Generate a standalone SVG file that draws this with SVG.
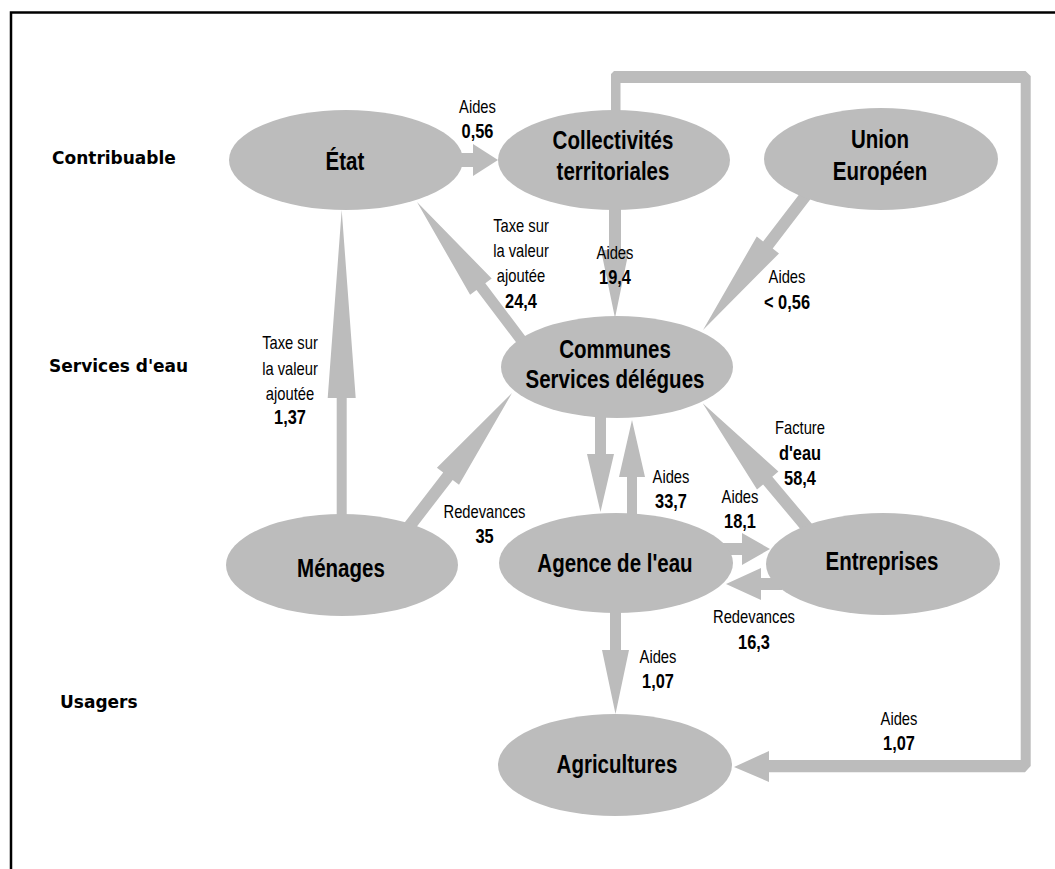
<svg xmlns="http://www.w3.org/2000/svg" width="1055" height="869" viewBox="0 0 1055 869">
<style>
.bg{fill:#ffffff}
.frame{fill:none;stroke:#000;stroke-width:2.5}
.node ellipse{fill:#bcbcbc}
.conn polygon{fill:#bcbcbc}
.nl{font-family:"Liberation Sans",Arial,sans-serif;font-weight:bold;font-size:25px;text-anchor:middle;fill:#000}
.lab{font-family:"Liberation Sans",Arial,sans-serif;font-size:18px;text-anchor:middle;fill:#000}
.num{font-weight:bold;font-size:20px}
.cat{font-family:"DejaVu Sans",sans-serif;font-weight:bold;font-size:17px;fill:#000}
</style>
<rect class="bg" x="0" y="0" width="1055" height="869"/>
<path class="frame" d="M11,869 V12.5 H1055"/>

<g id="categories">
<text class="cat" x="52" y="164">Contribuable</text>
<text class="cat" x="49" y="372">Services d'eau</text>
<text class="cat" x="60" y="708">Usagers</text>
</g>

<g id="connectors" class="conn">
<polygon id="c-etat-coll" points="460,153 473,153 473,144 498,160 473,176 473,167 460,167"/>
<polygon id="c-coll-comm" points="609,205 621,205 621,250 629,250 615,318 601,250 609,250"/>
<polygon id="c-union-comm" points="814.8,193.6 772.7,248.6 779.0,253.5 703,330 756.8,236.5 763.1,241.4 805.2,186.4"/>
<polygon id="c-comm-etat" points="529.4,341.7 485.3,283.3 491.7,278.5 417,202 470.1,294.7 476.5,289.9 520.6,348.3"/>
<polygon id="c-men-etat" points="336.7,520 336.7,398 327.7,398 341.7,210 355.7,398 346.7,398 346.7,520"/>
<polygon id="c-men-comm" points="409.8,535.7 452.7,479.9 459.0,484.7 512,393 436.9,467.7 443.2,472.5 400.2,528.3"/>
<polygon id="c-comm-ag" points="595,412 606,412 606,454 614,454 600.5,512 587,454 595,454"/>
<polygon id="c-ag-comm" points="627,518 627,477 619,477 632,420 645,477 637,477 637,518"/>
<polygon id="c-ent-comm" points="814.6,527.1 772.3,476.7 778.4,471.6 702.7,403.3 757.0,489.6 763.1,484.5 805.4,534.9"/>
<polygon id="c-ag-ent" points="722,543 742,543 742,533 770,549 742,565 742,555 722,555"/>
<polygon id="c-ent-ag" points="782,578 761,578 761,568 726,584 761,600 761,590 782,590"/>
<polygon id="c-ag-agri" points="610,608 621,608 621,650 629,650 615.5,714 602,650 610,650"/>
<polygon id="c-coll-agri" points="611,115 611,74 614,71 1025.5,71 1030.7,76 1030.7,766 1025,772.3 769,772.3 769,782 734,767 769,751 769,760 1020.7,760 1020.7,83 620.5,83 620.5,115"/>
</g>

<g id="node-etat" class="node">
<ellipse cx="346" cy="160" rx="117" ry="50"/>
<text class="nl" transform="scale(0.82 1)" x="420.73" y="170">État</text>
</g>
<g id="node-collectivites" class="node">
<ellipse cx="614" cy="160" rx="116" ry="50"/>
<text class="nl" transform="scale(0.82 1)" x="747.56" y="149">Collectivités</text>
<text class="nl" transform="scale(0.82 1)" x="747.56" y="180">territoriales</text>
</g>
<g id="node-union" class="node">
<ellipse cx="881" cy="159" rx="117" ry="51"/>
<text class="nl" transform="scale(0.82 1)" x="1073.17" y="148">Union</text>
<text class="nl" transform="scale(0.82 1)" x="1073.17" y="180">Européen</text>
</g>
<g id="node-communes" class="node">
<ellipse cx="617" cy="367" rx="116" ry="51"/>
<text class="nl" transform="scale(0.82 1)" x="750" y="358">Communes</text>
<text class="nl" transform="scale(0.82 1)" x="750" y="388">Services délégues</text>
</g>
<g id="node-menages" class="node">
<ellipse cx="342" cy="565" rx="116" ry="51"/>
<text class="nl" transform="scale(0.82 1)" x="415.85" y="577">Ménages</text>
</g>
<g id="node-agence" class="node">
<ellipse cx="616" cy="563" rx="117" ry="50"/>
<text class="nl" transform="scale(0.82 1)" x="750" y="572">Agence de l'eau</text>
</g>
<g id="node-entreprises" class="node">
<ellipse cx="883" cy="564" rx="117" ry="51"/>
<text class="nl" transform="scale(0.82 1)" x="1075.61" y="570">Entreprises</text>
</g>
<g id="node-agricultures" class="node">
<ellipse cx="615" cy="765" rx="117" ry="51"/>
<text class="nl" transform="scale(0.82 1)" x="752.44" y="773">Agricultures</text>
</g>

<g id="labels" transform="scale(0.82 1)">
<text class="lab" x="582.32" y="113">Aides</text>
<text class="lab num" x="582.32" y="138">0,56</text>

<text class="lab" x="635.37" y="232">Taxe sur</text>
<text class="lab" x="635.37" y="257">la valeur</text>
<text class="lab" x="635.37" y="282">ajoutée</text>
<text class="lab num" x="635.37" y="308">24,4</text>

<text class="lab" x="750" y="259">Aides</text>
<text class="lab num" x="750" y="284">19,4</text>

<text class="lab" x="959.76" y="283">Aides</text>
<text class="lab num" x="959.76" y="309">&lt; 0,56</text>

<text class="lab" x="353.66" y="349">Taxe sur</text>
<text class="lab" x="353.66" y="375">la valeur</text>
<text class="lab" x="353.66" y="400">ajoutée</text>
<text class="lab num" x="353.66" y="424">1,37</text>

<text class="lab" x="590.85" y="518">Redevances</text>
<text class="lab num" x="590.85" y="543">35</text>

<text class="lab" x="975.61" y="434">Facture</text>
<text class="lab num" x="975.61" y="460">d'eau</text>
<text class="lab num" x="975.61" y="485">58,4</text>

<text class="lab" x="818.29" y="483">Aides</text>
<text class="lab num" x="818.29" y="508">33,7</text>

<text class="lab" x="902.44" y="503">Aides</text>
<text class="lab num" x="902.44" y="528">18,1</text>

<text class="lab" x="919.51" y="623">Redevances</text>
<text class="lab num" x="919.51" y="649">16,3</text>

<text class="lab" x="802.44" y="663">Aides</text>
<text class="lab num" x="802.44" y="688">1,07</text>

<text class="lab" x="1096.34" y="725">Aides</text>
<text class="lab num" x="1096.34" y="750">1,07</text>
</g>
</svg>
